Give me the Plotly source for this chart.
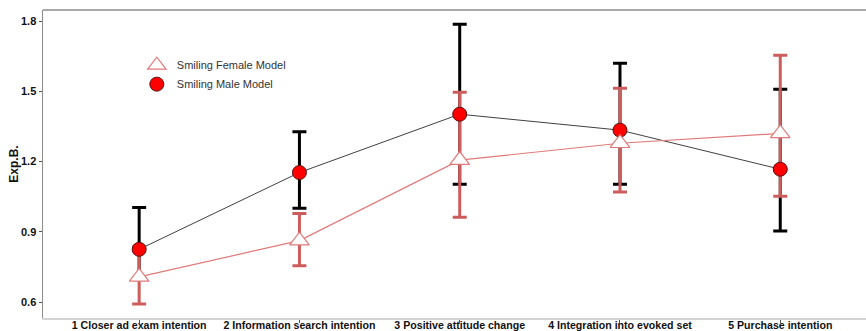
import plotly.graph_objects as go

categories = ["1 Closer ad exam intention", "2 Information search intention",
              "3 Positive attitude change", "4 Integration into evoked set",
              "5 Purchase intention"]

male_exp = [0.825, 1.153, 1.402, 1.334, 1.167]
male_upper = [1.004, 1.327, 1.786, 1.620, 1.509]
male_lower = [0.700, 1.000, 1.103, 1.103, 0.903]

female_exp = [0.707, 0.862, 1.206, 1.278, 1.320]
female_upper = [0.835, 0.978, 1.496, 1.513, 1.654]
female_lower = [0.591, 0.755, 0.962, 1.070, 1.052]

y_ticks = [0.6, 0.9, 1.2, 1.5, 1.8]

MALE_BAR = "#000000"
FEMALE_BAR = "#CD5C5C"
MALE_LINE = "#404040"
FEMALE_LINE = "#E07A7A"
FONT = "Liberation Sans, Arial, sans-serif"

fig = go.Figure()

def err(center, upper, lower):
    return ([u - c for u, c in zip(upper, center)],
            [c - l for c, l in zip(center, lower)])

mu, ml = err(male_exp, male_upper, male_lower)
fu, fl = err(female_exp, female_upper, female_lower)

fig.add_trace(go.Scatter(
    x=categories, y=male_exp, mode="markers",
    marker=dict(color="rgba(0,0,0,0)", size=1),
    error_y=dict(type="data", array=mu, arrayminus=ml, color=MALE_BAR,
                 thickness=3, width=7),
    showlegend=False, hoverinfo="skip"))
fig.add_trace(go.Scatter(
    x=categories, y=female_exp, mode="markers",
    marker=dict(color="rgba(0,0,0,0)", size=1),
    error_y=dict(type="data", array=fu, arrayminus=fl, color=FEMALE_BAR,
                 thickness=3, width=7),
    showlegend=False, hoverinfo="skip"))

fig.add_trace(go.Scatter(
    x=categories, y=male_exp, mode="lines",
    line=dict(color=MALE_LINE, width=1), showlegend=False))
fig.add_trace(go.Scatter(
    x=categories, y=female_exp, mode="lines",
    line=dict(color=FEMALE_LINE, width=1.2), showlegend=False))

fig.add_trace(go.Scatter(
    x=categories, y=male_exp, mode="markers", name="Smiling Male Model",
    marker=dict(symbol="circle", size=14, color="#FF0000",
                line=dict(color="#5a1010", width=1)),
    legendrank=2))
fig.add_trace(go.Scatter(
    x=categories, y=female_exp, mode="markers", name="Smiling Female Model",
    marker=dict(symbol="triangle-up", size=17, color="#FFFFFF",
                line=dict(color=FEMALE_LINE, width=1.2)),
    legendrank=1))

fig.update_layout(
    width=866, height=331,
    margin=dict(l=43, r=0, t=10, b=13),
    paper_bgcolor="white", plot_bgcolor="white",
    font=dict(family=FONT, size=11, color="#222222"),
    showlegend=True,
    legend=dict(x=0.114, y=0.868, xanchor="left", yanchor="top",
                bgcolor="rgba(0,0,0,0)", font=dict(size=11, color="#333333"),
                tracegroupgap=0, itemwidth=30),
    shapes=[dict(type="line", xref="paper", yref="paper", x0=0, x1=1, y0=1, y1=1,
                 line=dict(color="#8c8c8c", width=1.5))],
)

fig.update_xaxes(
    type="category", range=[-0.6, 4.535], automargin=False,
    showgrid=False, zeroline=False,
    showline=True, linecolor="#d4d4d4", linewidth=2,
    ticks="outside", ticklen=3, tickcolor="#555555", tickwidth=1,
    ticklabelstandoff=-7,
    tickfont=dict(family=FONT, size=10.6, color="#111111", weight="bold"),
)
fig.update_yaxes(
    range=[0.5317, 1.847], automargin=False,
    tickvals=y_ticks, ticktext=[f"{v:.1f}" for v in y_ticks],
    showgrid=False, zeroline=False,
    showline=True, linecolor="#8c8c8c", linewidth=1.5,
    ticks="outside", ticklen=3, tickcolor="#555555", tickwidth=1,
    tickfont=dict(family=FONT, size=11, color="#111111", weight="bold"),
    title=dict(text="Exp.B.", standoff=0,
               font=dict(family=FONT, size=12, color="#111111", weight="bold")),
)

fig.write_html("out.html",
               config={"displayModeBar": False, "staticPlot": True},
               post_script="document.body.style.margin='0';document.body.style.overflow='hidden';")
